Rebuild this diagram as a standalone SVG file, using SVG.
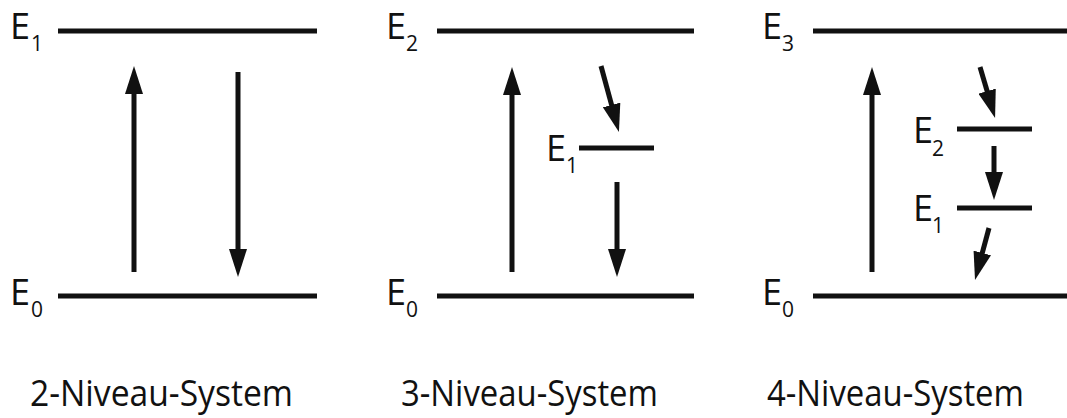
<svg xmlns="http://www.w3.org/2000/svg" width="1067" height="418" viewBox="0 0 1067 418">
<style>
.lvl{stroke:#111;stroke-width:5;fill:none}
.arr{stroke:#111;stroke-width:5;fill:none;marker-end:url(#ah)}
.E{font-family:"Open Sans","Noto Sans",sans-serif;font-size:36px;fill:#111}
.sub{font-family:"Open Sans","Noto Sans",sans-serif;font-size:21px;fill:#111}
.cap{font-family:"Open Sans","Noto Sans",sans-serif;font-size:36px;fill:#111}
</style>
<defs>
<marker id="ah" viewBox="0 0 28 18" refX="8" refY="9" markerWidth="28" markerHeight="18" markerUnits="userSpaceOnUse" orient="auto">
<path d="M0,0 L28,9 L0,18 z" fill="#111"/>
</marker>
</defs>
<rect width="1067" height="418" fill="#fff"/>
<g id="sys2">
<g id="sys2-E1"><line class="lvl" x1="58" y1="31" x2="317" y2="31"/><text class="E" x="10" y="39">E</text><text class="sub" x="31" y="51">1</text></g>
<g id="sys2-E0"><line class="lvl" x1="58" y1="296" x2="317" y2="296"/><text class="E" x="10" y="305">E</text><text class="sub" x="31" y="317">0</text></g>
<text class="cap" x="30" y="406" textLength="263" lengthAdjust="spacingAndGlyphs">2-Niveau-System</text>
</g>
<g id="sys3">
<g id="sys3-E2"><line class="lvl" x1="437" y1="31" x2="694" y2="31"/><text class="E" x="386" y="39">E</text><text class="sub" x="406" y="51">2</text></g>
<g id="sys3-E1"><line class="lvl" x1="579" y1="148" x2="654" y2="148"/><text class="E" x="546" y="161">E</text><text class="sub" x="566" y="173">1</text></g>
<g id="sys3-E0"><line class="lvl" x1="437" y1="296" x2="694" y2="296"/><text class="E" x="386" y="305">E</text><text class="sub" x="406" y="317">0</text></g>
<text class="cap" x="401" y="406" textLength="257" lengthAdjust="spacingAndGlyphs">3-Niveau-System</text>
</g>
<g id="sys4">
<g id="sys4-E3"><line class="lvl" x1="813" y1="31" x2="1067" y2="31"/><text class="E" x="762" y="39">E</text><text class="sub" x="782" y="51">3</text></g>
<g id="sys4-E2"><line class="lvl" x1="957" y1="129" x2="1032" y2="129"/><text class="E" x="913" y="143">E</text><text class="sub" x="932" y="156">2</text></g>
<g id="sys4-E1"><line class="lvl" x1="957" y1="208" x2="1032" y2="208"/><text class="E" x="913" y="221">E</text><text class="sub" x="932" y="233">1</text></g>
<g id="sys4-E0"><line class="lvl" x1="813" y1="296" x2="1067" y2="296"/><text class="E" x="762" y="305">E</text><text class="sub" x="782" y="317">0</text></g>
<text class="cap" x="767" y="406" textLength="257" lengthAdjust="spacingAndGlyphs">4-Niveau-System</text>
</g>
<g id="connectors">
<line class="arr" x1="134" y1="272" x2="134" y2="86"/>
<line class="arr" x1="238" y1="72" x2="238" y2="257"/>
<line class="arr" x1="512" y1="272" x2="512" y2="87"/>
<line class="arr" x1="601" y1="66" x2="613.7" y2="112.7"/>
<line class="arr" x1="617" y1="182" x2="617" y2="257"/>
<line class="arr" x1="872" y1="272" x2="872" y2="87"/>
<line class="arr" x1="980" y1="67" x2="989.4" y2="98.8"/>
<line class="arr" x1="994" y1="146" x2="994" y2="180"/>
<line class="arr" x1="989" y1="228" x2="980.2" y2="260.7"/>
</g>
</svg>
